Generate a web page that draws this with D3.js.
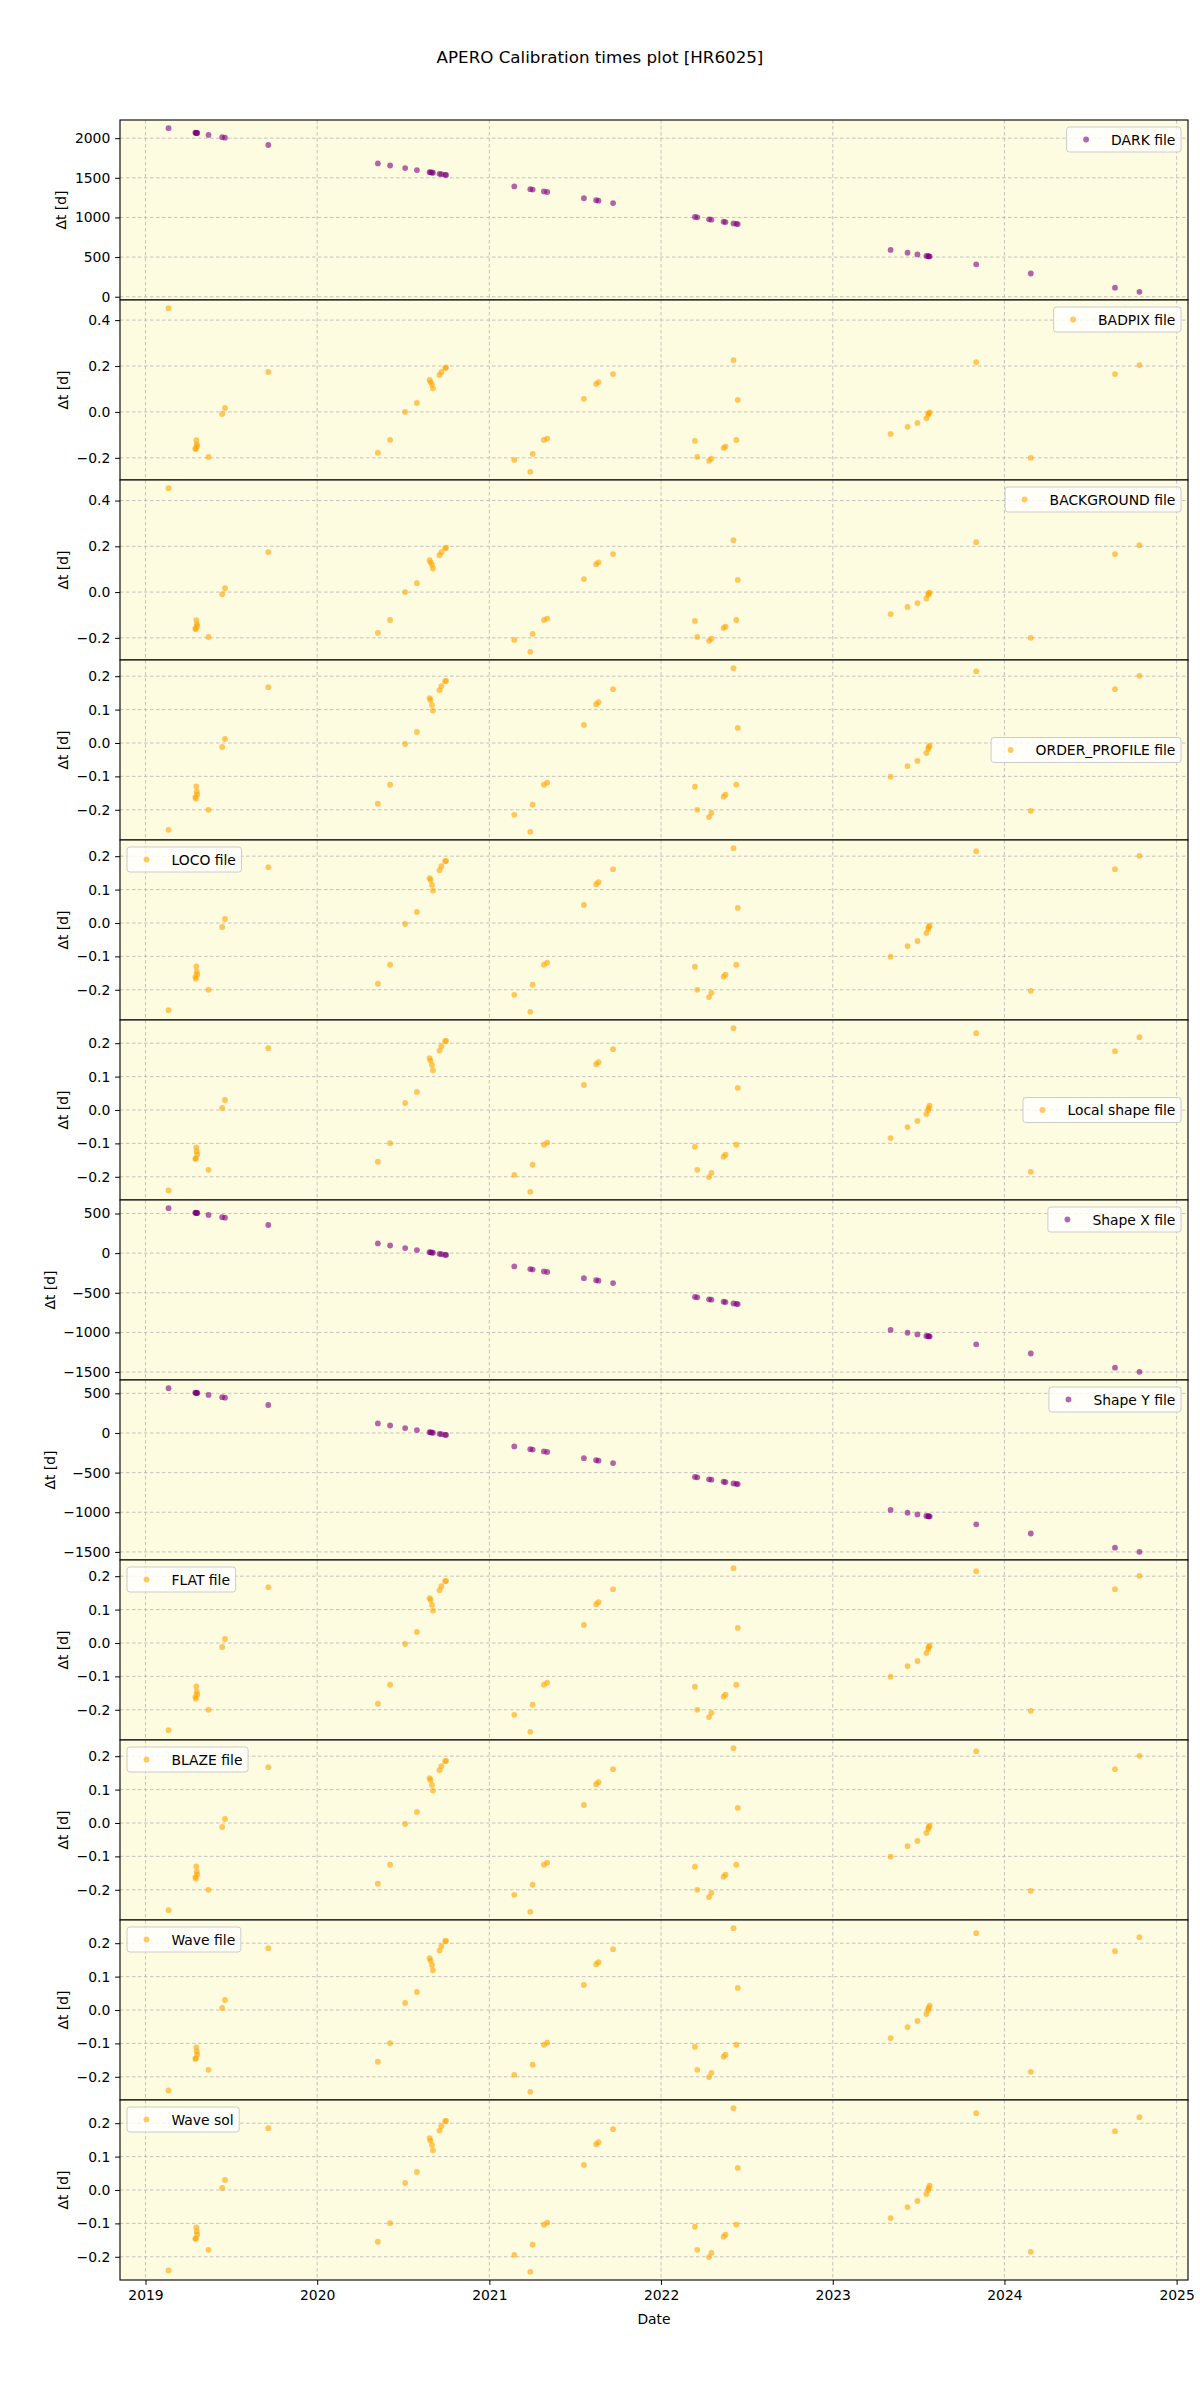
<!DOCTYPE html>
<html><head><meta charset="utf-8">
<script src="https://cdn.jsdelivr.net/npm/d3@7"></script>
<style>body{margin:0;background:#fff;} svg{display:block;font-family:"DejaVu Sans",sans-serif;}</style>
</head><body><svg id="chart" width="1200" height="2400"></svg>
<script>
// ---------------- DATA ----------------
const dates = ["2019-02-19","2019-04-17","2019-04-18","2019-04-19","2019-04-20","2019-04-21","2019-05-15","2019-06-13","2019-06-19","2019-09-19",
"2020-05-09","2020-06-04","2020-07-06","2020-07-31","2020-08-27","2020-08-29","2020-09-01","2020-09-03","2020-09-17","2020-09-21","2020-09-29","2020-10-01",
"2021-02-23","2021-03-29","2021-04-03","2021-04-27","2021-05-04","2021-07-21","2021-08-16","2021-08-21","2021-09-21",
"2022-03-14","2022-03-19","2022-04-13","2022-04-18","2022-05-14","2022-05-18","2022-06-04","2022-06-10","2022-06-13",
"2023-05-04","2023-06-09","2023-06-30","2023-07-19","2023-07-23","2023-07-24","2023-07-26","2023-11-02",
"2024-02-26","2024-08-23","2024-10-14"];

const darkValues = [2126,2069,2068,2067,2066,2065,2041,2012,2006,1914,
1681,1655,1623,1598,1571,1569,1566,1564,1550,1546,1538,1536,
1391,1357,1352,1328,1321,1243,1217,1212,1181,
1007,1002,977,972,946,942,925,919,916,
591,555,534,515,511,510,508,409,
293,114,62];

const badpixValues = [0.452,-0.159,-0.162,-0.123,-0.141,-0.149,-0.196,-0.009,0.017,0.174,
-0.178,-0.122,0.000,0.039,0.139,0.130,0.119,0.103,0.161,0.174,0.191,0.194,
-0.209,-0.261,-0.183,-0.122,-0.116,0.057,0.122,0.130,0.165,
-0.126,-0.196,-0.213,-0.204,-0.157,-0.151,0.226,-0.122,0.052,
-0.096,-0.065,-0.048,-0.028,-0.012,-0.006,-0.002,0.217,
-0.200,0.165,0.204];

const backgroundValues = [0.454,-0.159,-0.162,-0.123,-0.141,-0.149,-0.196,-0.009,0.017,0.175,
-0.178,-0.122,0.000,0.039,0.139,0.130,0.119,0.103,0.161,0.174,0.191,0.194,
-0.209,-0.261,-0.183,-0.122,-0.116,0.057,0.122,0.130,0.166,
-0.126,-0.196,-0.213,-0.204,-0.157,-0.151,0.227,-0.122,0.053,
-0.096,-0.065,-0.048,-0.028,-0.012,-0.006,-0.002,0.218,
-0.200,0.166,0.205];

const orderProfileValues = [-0.260,-0.162,-0.167,-0.130,-0.146,-0.154,-0.200,-0.012,0.012,0.167,
-0.182,-0.125,-0.003,0.033,0.134,0.129,0.114,0.097,0.158,0.170,0.185,0.186,
-0.215,-0.266,-0.185,-0.125,-0.119,0.054,0.116,0.122,0.161,
-0.131,-0.200,-0.222,-0.209,-0.161,-0.155,0.224,-0.125,0.045,
-0.101,-0.069,-0.054,-0.030,-0.018,-0.012,-0.008,0.215,
-0.203,0.161,0.201];

const locoValues = [-0.261,-0.162,-0.167,-0.130,-0.146,-0.154,-0.200,-0.012,0.012,0.167,
-0.182,-0.125,-0.003,0.033,0.134,0.129,0.114,0.097,0.158,0.170,0.185,0.186,
-0.215,-0.266,-0.185,-0.125,-0.119,0.054,0.116,0.122,0.161,
-0.131,-0.200,-0.222,-0.209,-0.161,-0.155,0.224,-0.125,0.045,
-0.101,-0.069,-0.054,-0.030,-0.018,-0.012,-0.008,0.215,
-0.203,0.161,0.201];

const localShapeValues = [-0.241,-0.146,-0.145,-0.112,-0.124,-0.133,-0.179,0.006,0.030,0.185,
-0.155,-0.099,0.021,0.054,0.155,0.148,0.135,0.119,0.178,0.191,0.206,0.207,
-0.194,-0.245,-0.164,-0.104,-0.098,0.075,0.137,0.143,0.182,
-0.110,-0.179,-0.201,-0.188,-0.140,-0.134,0.245,-0.104,0.066,
-0.084,-0.051,-0.033,-0.012,0.000,0.006,0.013,0.230,
-0.185,0.176,0.218];

const shapeXValues = [567,510,509,508,507,506,482,453,447,355,
122,96,64,39,12,10,7,5,-9,-13,-21,-23,
-168,-202,-207,-231,-238,-316,-342,-347,-378,
-552,-557,-582,-587,-613,-617,-634,-640,-643,
-968,-1004,-1025,-1044,-1048,-1049,-1051,-1150,
-1266,-1445,-1497];

const shapeYValues = [565,508,507,506,505,504,480,451,445,353,
120,94,62,37,10,8,5,3,-11,-15,-23,-25,
-170,-204,-209,-233,-240,-318,-344,-349,-380,
-554,-559,-584,-589,-615,-619,-636,-642,-645,
-970,-1006,-1027,-1046,-1050,-1051,-1053,-1152,
-1268,-1447,-1499];

const flatValues = locoValues.slice();
const blazeValues = locoValues.slice();
const waveFileValues = localShapeValues.slice();
const waveSolValues = localShapeValues.slice();

const panelLabels = ["DARK file","BADPIX file","BACKGROUND file","ORDER_PROFILE file","LOCO file","Local shape file",
"Shape X file","Shape Y file","FLAT file","BLAZE file","Wave file","Wave sol"];
const panelSeries = [darkValues,badpixValues,backgroundValues,orderProfileValues,locoValues,localShapeValues,
shapeXValues,shapeYValues,flatValues,blazeValues,waveFileValues,waveSolValues];
const panelColors = ["purple","orange","orange","orange","orange","orange","purple","purple","orange","orange","orange","orange"];
const legendLocs = ["ur","ur","ur","cr","ul","cr","ur","ur","ul","ul","ul","ul"];

const ticksDark = [0,500,1000,1500,2000];
const ticksWide = [-0.2,0.0,0.2,0.4];
const ticksNarrow = [-0.2,-0.1,0.0,0.1,0.2];
const ticksShape = [-1500,-1000,-500,0,500];
const panelTicks = [ticksDark,ticksWide,ticksWide,ticksNarrow,ticksNarrow,ticksNarrow,ticksShape,ticksShape,ticksNarrow,ticksNarrow,ticksNarrow,ticksNarrow];
const yearTickLabels = ["2019","2020","2021","2022","2023","2024","2025"];

const titleText = "APERO Calibration times plot [HR6025]";

// ---------------- LAYOUT ----------------
const L = 120, R = 1188, T = 120, PH = 180;
const FS = 13.9, tickLen = 4.86, tickPad = 4.86;
const svg = d3.select("#chart");
const parse = d3.utcParse("%Y-%m-%d");
const xDates = dates.map(parse);
const xmin = d3.min(xDates), xmax = d3.max(xDates), span = xmax - xmin;
const x = d3.scaleUtc().domain([new Date(+xmin - 0.05*span), new Date(+xmax + 0.05*span)]).range([L, R]);
const yearDates = yearTickLabels.map(y => d3.utcParse("%Y")(y));

svg.append("text").attr("x", 600).attr("y", 57).attr("text-anchor","middle")
  .attr("dominant-baseline","central").attr("font-size", 16.7).text(titleText);

const bg = "#fdfbe0";
const panelGroups = [];
panelSeries.forEach((vals, i) => {
  const g = svg.append("g").attr("transform", `translate(0,${T + i*PH})`);
  panelGroups.push(g);
  const ext = d3.extent(vals); const r = ext[1]-ext[0];
  const y = d3.scaleLinear().domain([ext[0]-0.05*r, ext[1]+0.05*r]).range([PH, 0]);
  g.append("rect").attr("x", L).attr("y", 0).attr("width", R-L).attr("height", PH).attr("fill", bg);
  const grid = g.append("g").attr("stroke","#b0b0b0").attr("stroke-width",0.8).attr("stroke-dasharray","3.5,2.5").attr("opacity",0.9);
  yearDates.forEach(d => { const xx = x(d); if (xx>=L && xx<=R) grid.append("line").attr("x1",xx).attr("x2",xx).attr("y1",0).attr("y2",PH); });
  panelTicks[i].forEach(t => grid.append("line").attr("x1",L).attr("x2",R).attr("y1",y(t)).attr("y2",y(t)));
  g.append("g").selectAll("circle").data(vals).join("circle")
    .attr("cx",(d,j)=>x(xDates[j])).attr("cy",d=>y(d)).attr("r",2.9)
    .attr("fill", panelColors[i]).attr("fill-opacity",0.6);
  const fmt = panelTicks[i][1]-panelTicks[i][0] >= 1 ? d3.format("d") : d3.format(".1f");
  const ax = g.append("g").attr("transform",`translate(${L},0)`)
    .call(d3.axisLeft(y).tickValues(panelTicks[i]).tickSize(tickLen).tickPadding(tickPad).tickFormat(fmt));
  ax.select(".domain").remove();
  ax.selectAll("text").attr("font-size",FS).attr("font-family","DejaVu Sans").attr("fill","#000");
  ax.selectAll("line").attr("stroke","#000").attr("stroke-width",1);
  let maxW = 0; ax.selectAll("text").each(function(){ maxW = Math.max(maxW, this.getComputedTextLength()); });
  const lx = L - tickLen - tickPad - maxW - 5.6 - 3;
  g.append("text").attr("transform",`translate(${lx},${PH/2}) rotate(-90)`).attr("text-anchor","middle")
    .attr("font-size",FS).text("Δt [d]");
  // legend
  const lg = g.append("g");
  const txt = lg.append("text").attr("font-size",FS).text(panelLabels[i]);
  const tw = txt.node().getComputedTextLength();
  const bw = 5.6 + 27.8 + 11.1 + tw + 5.6, bh = 25;
  let bx, by;
  if (legendLocs[i]==="ur") { bx = R - 7 - bw; by = 7; }
  else if (legendLocs[i]==="ul") { bx = L + 7; by = 7; }
  else { bx = R - 7 - bw; by = PH/2 - bh/2; }
  lg.insert("rect","text").attr("x",bx).attr("y",by).attr("width",bw).attr("height",bh).attr("rx",2.8)
    .attr("fill","#fff").attr("fill-opacity",0.8).attr("stroke","#cccccc").attr("stroke-width",1);
  lg.append("circle").attr("cx",bx+5.6+13.9).attr("cy",by+bh/2).attr("r",2.9).attr("fill",panelColors[i]).attr("fill-opacity",0.6);
  txt.attr("x",bx+5.6+27.8+11.1).attr("y",by+bh/2).attr("dominant-baseline","central");
});

// spines drawn last so neighbouring panels do not cover them
panelGroups.forEach(g => {
  g.append("rect").attr("x",L).attr("y",0).attr("width",R-L).attr("height",PH)
    .attr("fill","none").attr("stroke","#000").attr("stroke-width",1.1);
});

// bottom axis
const xa = svg.append("g").attr("transform",`translate(0,${T + panelSeries.length*PH})`)
  .call(d3.axisBottom(x).tickValues(yearDates).tickFormat(d3.utcFormat("%Y")).tickSize(tickLen).tickPadding(tickPad));
xa.select(".domain").remove();
xa.selectAll("text").attr("font-size",FS).attr("font-family","DejaVu Sans").attr("fill","#000");
xa.selectAll("line").attr("stroke","#000");
svg.append("text").attr("x",(L+R)/2).attr("y",2319).attr("text-anchor","middle").attr("dominant-baseline","central")
  .attr("font-size",FS).text("Date");
</script></body></html>
